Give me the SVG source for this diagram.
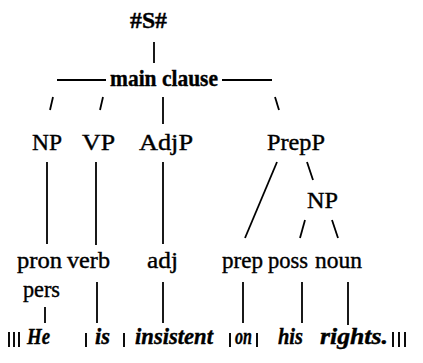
<svg xmlns="http://www.w3.org/2000/svg" width="423" height="363" viewBox="0 0 423 363">
<style>
text{font-family:"Liberation Serif","Times New Roman",serif;font-size:24px;fill:#000;stroke:#000;stroke-width:0.4}
.b{font-weight:bold}
.i{font-style:italic;font-weight:bold}
line{stroke:#000;stroke-width:1.8;stroke-linecap:butt}
.bar{stroke-width:1.9}
</style>
<rect width="423" height="363" fill="#fff"/>
<g id="connectors">
<line x1="154" y1="42" x2="154" y2="63"/>
<line x1="57" y1="80" x2="106" y2="80"/>
<line x1="222" y1="80" x2="272" y2="80"/>
<line x1="53" y1="97" x2="50" y2="110"/>
<line x1="103" y1="97" x2="100" y2="110"/>
<line x1="163" y1="97" x2="163" y2="124"/>
<line x1="275" y1="97" x2="279" y2="110"/>
<line x1="47" y1="162" x2="47" y2="244"/>
<line x1="96" y1="162" x2="96" y2="245"/>
<line x1="163" y1="162" x2="163" y2="244"/>
<line x1="277" y1="162" x2="245" y2="238"/>
<line x1="307" y1="162" x2="313" y2="180"/>
<line x1="305" y1="220" x2="300" y2="238"/>
<line x1="332" y1="220" x2="338" y2="238"/>
<line x1="45" y1="307" x2="45" y2="323"/>
<line x1="97" y1="282" x2="97" y2="323"/>
<line x1="163" y1="282" x2="163" y2="323"/>
<line x1="243" y1="282" x2="243" y2="323"/>
<line x1="302" y1="282" x2="302" y2="323"/>
<line x1="348" y1="282" x2="348" y2="325"/>
</g>
<g id="S"><text class="b" x="130" y="28" textLength="37" lengthAdjust="spacingAndGlyphs">#S#</text></g>
<g id="mainclause"><text class="b" x="110" y="86" textLength="108" lengthAdjust="spacingAndGlyphs">main clause</text></g>
<g id="NP1"><text x="32" y="150" textLength="30" lengthAdjust="spacingAndGlyphs">NP</text></g>
<g id="VP"><text x="82" y="150" textLength="33" lengthAdjust="spacingAndGlyphs">VP</text></g>
<g id="AdjP"><text x="139" y="150" textLength="54" lengthAdjust="spacingAndGlyphs">AdjP</text></g>
<g id="PrepP"><text x="267" y="150" textLength="58" lengthAdjust="spacingAndGlyphs">PrepP</text></g>
<g id="NP2"><text x="307" y="208" textLength="31" lengthAdjust="spacingAndGlyphs">NP</text></g>
<g id="pronpers"><text x="17" y="268" textLength="45" lengthAdjust="spacingAndGlyphs">pron</text><text x="23" y="297" textLength="37" lengthAdjust="spacingAndGlyphs">pers</text></g>
<g id="verb"><text x="67" y="268" textLength="43" lengthAdjust="spacingAndGlyphs">verb</text></g>
<g id="adj"><text x="147" y="268" textLength="31" lengthAdjust="spacingAndGlyphs">adj</text></g>
<g id="prep"><text x="222" y="268" textLength="41" lengthAdjust="spacingAndGlyphs">prep</text></g>
<g id="poss"><text x="268" y="268" textLength="40" lengthAdjust="spacingAndGlyphs">poss</text></g>
<g id="noun"><text x="315" y="268" textLength="47" lengthAdjust="spacingAndGlyphs">noun</text></g>
<g id="sentence">
<line class="bar" x1="9" y1="332" x2="9" y2="347"/>
<line class="bar" x1="14" y1="332" x2="14" y2="347"/>
<line class="bar" x1="19" y1="332" x2="19" y2="347"/>
<text class="i" x="27" y="344" textLength="23" lengthAdjust="spacingAndGlyphs">He</text>
<line class="bar" x1="86" y1="333" x2="86" y2="347"/>
<text class="i" x="95" y="344" textLength="15" lengthAdjust="spacingAndGlyphs">is</text>
<line class="bar" x1="124" y1="333" x2="124" y2="347"/>
<text class="i" x="135" y="344" textLength="78" lengthAdjust="spacingAndGlyphs">insistent</text>
<line class="bar" x1="230" y1="333" x2="230" y2="347"/>
<text class="i" x="235" y="344" textLength="17" lengthAdjust="spacingAndGlyphs">on</text>
<line class="bar" x1="257" y1="333" x2="257" y2="347"/>
<text class="i" x="278" y="344" textLength="25" lengthAdjust="spacingAndGlyphs">his</text>
<text class="i" x="320" y="344" textLength="68" lengthAdjust="spacingAndGlyphs">rights.</text>
<line class="bar" x1="393" y1="332" x2="393" y2="347"/>
<line class="bar" x1="399" y1="332" x2="399" y2="347"/>
<line class="bar" x1="405" y1="332" x2="405" y2="347"/>
</g>
</svg>
